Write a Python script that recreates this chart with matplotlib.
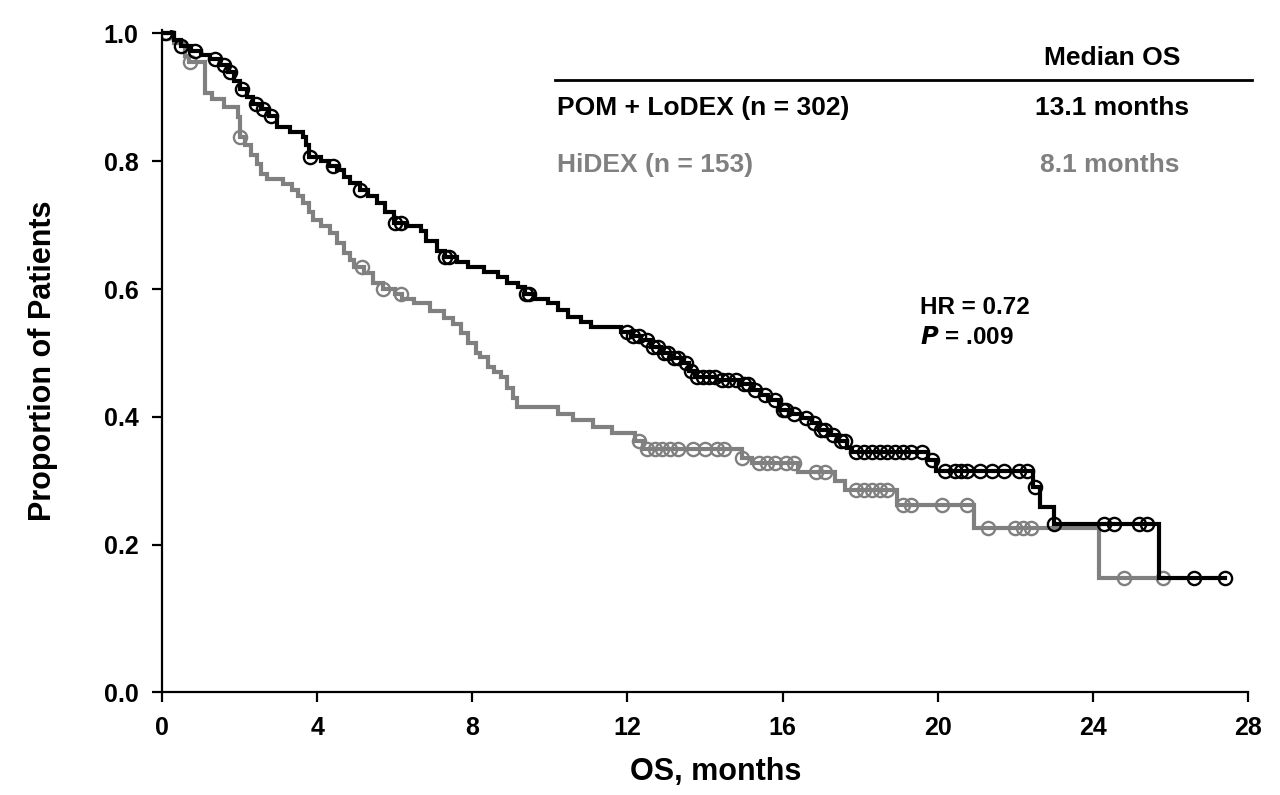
import numpy as np
import matplotlib.pyplot as plt
from matplotlib.lines import Line2D

plt.rcParams['font.family'] = ['Liberation Sans', 'DejaVu Sans']
plt.rcParams['font.weight'] = 'bold'

# POM + LoDEX: step times (months) and survival after each step
lodex_t = [0, 0.3, 0.5, 0.75, 1.0, 1.25, 1.5, 1.7, 1.85, 2.0, 2.2, 2.35, 2.55, 2.75,
           2.97, 3.3, 3.64, 3.7, 3.8, 4.1, 4.3, 4.5, 4.7, 4.86, 5.1, 5.3, 5.55, 5.75,
           5.97, 6.3, 6.67, 6.8, 7.1, 7.3, 7.6, 7.88, 8.3, 8.66, 8.9, 9.17, 9.35, 9.6,
           9.95, 10.2, 10.47, 10.8, 11.06, 11.84, 12.1, 12.35, 12.6, 12.87, 13.1, 13.4,
           13.6, 13.75, 14.3, 14.9, 15.2, 15.45, 15.63, 15.9, 16.2, 16.5, 16.75, 16.93,
           17.2, 17.44, 17.65, 17.8, 19.75, 19.95, 22.45, 22.65, 23.0, 25.7, 27.4]
lodex_s = [1.0, 0.99, 0.98, 0.972, 0.966, 0.96, 0.95, 0.94, 0.925, 0.912, 0.9, 0.89, 0.882, 0.87,
           0.853, 0.845, 0.838, 0.825, 0.806, 0.8, 0.793, 0.786, 0.775, 0.766, 0.755, 0.745, 0.734, 0.72,
           0.703, 0.698, 0.69, 0.675, 0.66, 0.65, 0.642, 0.634, 0.626, 0.619, 0.61, 0.603, 0.592, 0.585,
           0.578, 0.568, 0.556, 0.548, 0.541, 0.533, 0.527, 0.52, 0.51, 0.5, 0.492, 0.484,
           0.472, 0.462, 0.458, 0.452, 0.442, 0.434, 0.426, 0.411, 0.405, 0.398, 0.39, 0.38,
           0.372, 0.362, 0.352, 0.345, 0.332, 0.315, 0.29, 0.26, 0.232, 0.148, 0.148]
lodex_cens = [0.08, 0.5, 0.85, 1.37, 1.6, 1.75, 2.05, 2.43, 2.6, 2.8, 3.82, 4.4, 5.1, 6.0, 6.15,
              7.3, 7.4, 9.38, 9.45, 12.0, 12.15, 12.3, 12.5, 12.65, 12.8, 12.95, 13.05, 13.2,
              13.3, 13.5, 13.65, 13.8, 13.95, 14.1, 14.25, 14.45, 14.6, 14.8, 15.0, 15.1, 15.3,
              15.55, 15.8, 16.0, 16.1, 16.3, 16.6, 16.8, 17.0, 17.1, 17.3, 17.5, 17.6, 17.9,
              18.1, 18.3, 18.5, 18.7, 18.9, 19.1, 19.3, 19.6, 19.85, 20.2, 20.45, 20.6, 20.75,
              21.1, 21.4, 21.7, 22.1, 22.3, 22.5, 23.0, 24.3, 24.55, 25.2, 25.4, 26.6, 27.4]

# HiDEX
hidex_t = [0, 0.3, 0.6, 0.7, 1.1, 1.3, 1.6, 1.96, 2.0, 2.15, 2.3, 2.45, 2.55, 2.7, 3.13,
           3.35, 3.5, 3.64, 3.78, 3.9, 4.1, 4.34, 4.5, 4.68, 4.85, 4.95, 5.2, 5.45, 5.7,
           6.0, 6.2, 6.5, 6.9, 7.26, 7.5, 7.7, 7.9, 8.1, 8.2, 8.4, 8.55, 8.73, 8.9, 9.05,
           9.16, 10.2, 10.6, 11.1, 11.6, 12.2, 12.4, 14.95, 15.2, 16.4, 17.35, 17.6, 18.95,
           20.93, 24.16, 25.8]
hidex_s = [1.0, 0.985, 0.965, 0.955, 0.906, 0.897, 0.885, 0.869, 0.838, 0.825, 0.81, 0.795, 0.78, 0.772, 0.765,
           0.755, 0.745, 0.735, 0.72, 0.708, 0.698, 0.688, 0.672, 0.656, 0.645, 0.634, 0.625, 0.61, 0.6,
           0.592, 0.585, 0.578, 0.565, 0.555, 0.545, 0.531, 0.515, 0.5, 0.494, 0.478, 0.47, 0.462, 0.445, 0.43,
           0.416, 0.405, 0.395, 0.385, 0.375, 0.362, 0.35, 0.336, 0.328, 0.314, 0.3, 0.286, 0.262,
           0.227, 0.148, 0.148]
hidex_cens = [0.12, 0.72, 2.0, 5.15, 5.7, 6.15, 12.3, 12.5, 12.7, 12.9, 13.1, 13.3, 13.7, 14.0,
              14.3, 14.5, 14.95, 15.4, 15.6, 15.8, 16.1, 16.3, 16.85, 17.1, 17.9, 18.1, 18.3,
              18.5, 18.7, 19.1, 19.3, 20.1, 20.75, 21.3, 22.0, 22.2, 22.4, 24.8, 25.8]

x_ticks = [0, 4, 8, 12, 16, 20, 24, 28]
y_ticks = [0.2, 0.4, 0.6, 0.8, 1.0]

BLACK = '#000000'
GRAY = '#808080'
W, H = 1280, 795


def censor_y(t, s, cens):
    t = np.asarray(t)
    s = np.asarray(s)
    idx = np.searchsorted(t, cens, side='right') - 1
    return s[idx]


fig = plt.figure(figsize=(W / 100, H / 100), dpi=100)
ax = fig.add_axes([162 / W, 1 - 692 / H, (1248 - 162) / W, (692 - 30) / H])

for t, s, cens, col in [(hidex_t, hidex_s, hidex_cens, GRAY),
                        (lodex_t, lodex_s, lodex_cens, BLACK)]:
    ax.step(t, s, where='post', color=col, lw=3.0, solid_joinstyle='miter')
    ax.plot(cens, censor_y(t, s, cens), 'o', ms=9.5, mfc='none', mec=col, mew=1.7)

ax.set_xlim(0, 28)
ax.set_ylim(-0.03, 1.005)
ax.set_xticks(x_ticks)
ax.set_yticks([-0.03] + y_ticks)
ax.set_yticklabels(['0.0'] + ['%.1f' % v for v in y_ticks])
ax.spines['top'].set_visible(False)
ax.spines['right'].set_visible(False)
for sp in ax.spines.values():
    sp.set_linewidth(1.6)
ax.tick_params(direction='out', length=7, width=1.6, labelsize=18, pad=10)
for lab in ax.get_xticklabels() + ax.get_yticklabels():
    lab.set_fontweight('bold')

ax.set_xlabel('OS, months', fontsize=22, fontweight='bold')
ax.set_ylabel('Proportion of Patients', fontsize=22, fontweight='bold')
ax.xaxis.set_label_coords(0.51, -0.121)
ax.xaxis.label.set_verticalalignment('center')
ax.yaxis.set_label_coords(-0.11, 0.50)
ax.yaxis.label.set_verticalalignment('center')

# median OS table
def fx(px):
    return px / W

def fy(py):
    return 1 - py / H

fig.text(fx(1112), fy(58), 'Median OS', fontsize=19, fontweight='bold', ha='center', va='center')
fig.add_artist(Line2D([fx(555), fx(1252)], [fy(80), fy(80)], color=BLACK, lw=2))
fig.text(fx(557), fy(108), 'POM + LoDEX (n = 302)', fontsize=19, fontweight='bold',
         ha='left', va='center', color=BLACK)
fig.text(fx(1112), fy(108), '13.1 months', fontsize=19, fontweight='bold',
         ha='center', va='center', color=BLACK)
fig.text(fx(557), fy(165), 'HiDEX (n = 153)', fontsize=19, fontweight='bold',
         ha='left', va='center', color=GRAY)
fig.text(fx(1110), fy(165), '8.1 months', fontsize=19, fontweight='bold',
         ha='center', va='center', color=GRAY)

fig.text(fx(920), fy(308), 'HR = 0.72', fontsize=17.5, fontweight='bold', ha='left', va='center')
fig.text(fx(920), fy(338), r'$\bfit{P}$ = .009', fontsize=17.5, fontweight='bold', ha='left', va='center')

fig.savefig('out.png', dpi=100)
